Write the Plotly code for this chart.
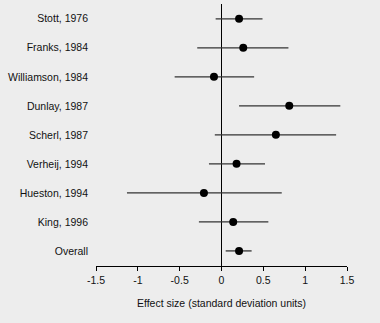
import plotly.graph_objects as go

studies = ["Stott, 1976", "Franks, 1984", "Williamson, 1984", "Dunlay, 1987",
           "Scherl, 1987", "Verheij, 1994", "Hueston, 1994", "King, 1996", "Overall"]
effect = [0.21, 0.26, -0.09, 0.81, 0.65, 0.18, -0.21, 0.14, 0.21]
lower = [-0.07, -0.29, -0.56, 0.21, -0.08, -0.15, -1.13, -0.27, 0.05]
upper = [0.49, 0.80, 0.39, 1.42, 1.37, 0.52, 0.72, 0.56, 0.36]
xticks = [-1.5, -1, -0.5, 0, 0.5, 1, 1.5]
xticklabels = ["-1.5", "-1", "-0.5", "0", "0.5", "1", "1.5"]

n = len(studies)
ypos = list(range(n, 0, -1))

fig = go.Figure()
fig.add_trace(go.Scatter(
    x=effect, y=ypos, mode="markers",
    marker=dict(color="black", size=8),
    error_x=dict(type="data", symmetric=False,
                 array=[u - e for u, e in zip(upper, effect)],
                 arrayminus=[e - l for e, l in zip(effect, lower)],
                 color="#333333", thickness=1.3, width=0),
    showlegend=False, hoverinfo="skip",
))

font = dict(family="Liberation Sans, Arial, Helvetica, sans-serif",
            size=10.5, color="#111111")

fig.update_layout(
    width=380, height=323,
    margin=dict(l=96, r=33, t=4, b=57),
    paper_bgcolor="#ededed", plot_bgcolor="#ededed",
    font=font,
    xaxis=dict(range=[-1.5, 1.5], tickvals=xticks, ticktext=xticklabels,
               showgrid=False, zeroline=True, zerolinecolor="black", zerolinewidth=1.3,
               showline=True, linecolor="black", linewidth=1.3,
               ticks="outside", ticklen=4, tickcolor="black", tickwidth=1,
               title=dict(text="Effect size (standard deviation units)", standoff=14,
                          font=dict(size=10.5)),
               automargin=False, fixedrange=True),
    yaxis=dict(range=[0.48, 9.51], tickvals=ypos, ticktext=studies,
               showgrid=False, zeroline=False, showline=False, ticks="",
               ticklabelstandoff=7, automargin=False, fixedrange=True),
)

fig.write_html("out.html", config={"displayModeBar": False, "staticPlot": True},
               post_script="document.body.style.margin='0';document.body.style.background='#ededed';")
